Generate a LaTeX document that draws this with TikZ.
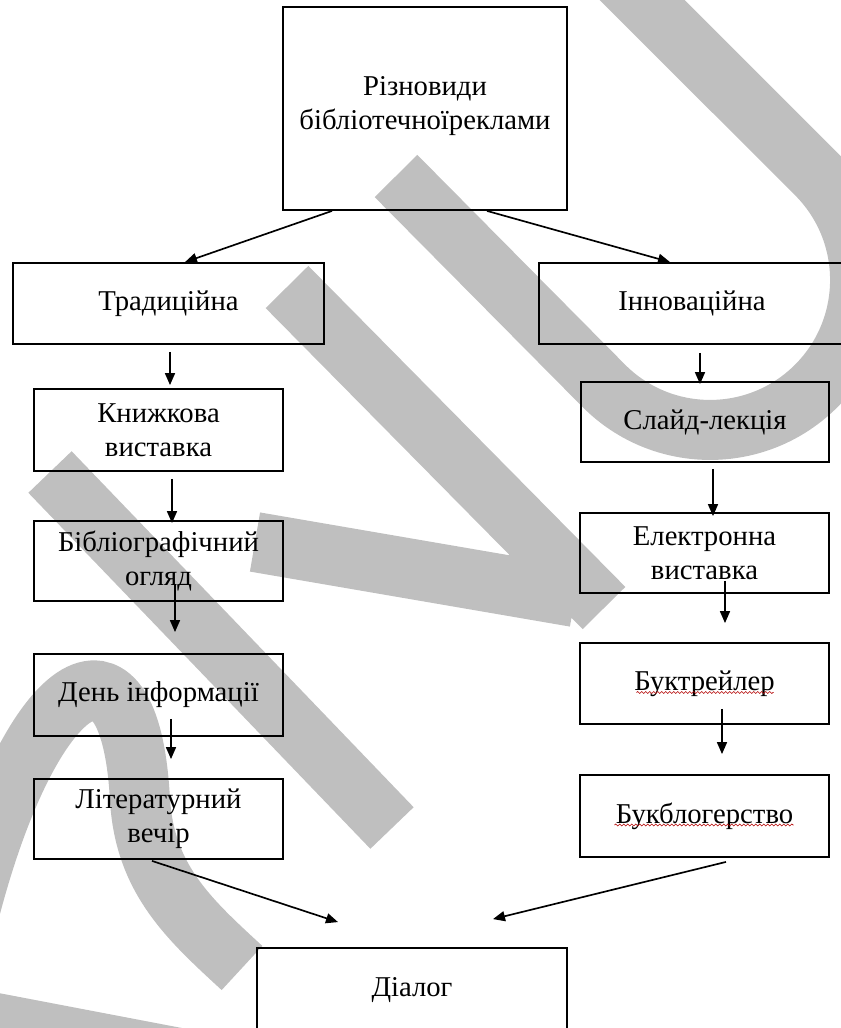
\documentclass[tikz,border=0pt]{standalone}
\usepackage{fontspec}
\setmainfont{Liberation Serif}
\usetikzlibrary{arrows.meta,calc,decorations.pathmorphing}

\tikzstyle{blok}=[draw=black,line width=0.055cm,inner sep=0pt,align=center,font=\fontsize{24.5}{29}\selectfont]
\tikzstyle{strilka}=[line width=0.05cm,-{Triangle[length=0.36cm,width=0.3cm]}]
\tikzstyle{znak}=[draw=black,opacity=0.25,line width=1.8cm]
\tikzstyle{pidkr}=[draw=red!70!black,line width=0.02cm,decorate,decoration={snake,amplitude=0.03cm,segment length=0.12cm}]

\begin{document}
\begin{tikzpicture}[x=0.03cm,y=-0.03cm]

   \useasboundingbox (0,0) rectangle (841,1028);
   \clip (0,0) rectangle (841,1028);

   % top
   \node[blok,minimum width=8.52cm,minimum height=6.09cm] (vydy) at (425,108.5) {Різновиди\\бібліотечноїреклами\\[-0.66cm]};

   % left column
   \node[blok,minimum width=9.33cm,minimum height=2.43cm] (trad) at (168.5,303.5) {Традиційна};
   \node[blok,minimum width=7.47cm,minimum height=2.46cm] (knyzh) at (158.5,430) {Книжкова\\виставка};
   \node[blok,minimum width=7.47cm,minimum height=2.4cm] (bibl) at (158.5,561) {Бібліографічний\\огляд};
   \node[blok,minimum width=7.47cm,minimum height=2.46cm] (den) at (158.5,695) {День інформації};
   \node[blok,minimum width=7.47cm,minimum height=2.4cm] (lit) at (158.5,819) {Літературний\\вечір};

   % right column
   \node[blok,minimum width=9.18cm,minimum height=2.43cm] (inn) at (692,303.5) {Інноваційна};
   \node[blok,minimum width=7.44cm,minimum height=2.4cm] (slaid) at (705,422) {Слайд-лекція};
   \node[blok,minimum width=7.47cm,minimum height=2.4cm] (elek) at (704.5,553) {Електронна\\виставка};
   \node[blok,minimum width=7.47cm,minimum height=2.43cm] (buktr) at (704.5,683.5) {Буктрейлер};
   \node[blok,minimum width=7.47cm,minimum height=2.46cm] (bukbl) at (704.5,816) {Букблогерство};

   % bottom
   \node[blok,minimum width=9.3cm,minimum height=2.52cm] (dial) at (412,990) {Діалог};

   \draw[pidkr] ($(buktr.center)+(-68,9)$) -- ($(buktr.center)+(69,9)$);
   \draw[pidkr] ($(bukbl.center)+(-90,9)$) -- ($(bukbl.center)+(89,9)$);

   \draw[strilka] ($(vydy.south)+(-93,0)$) -- ($(trad.north)+(16.5,0)$);
   \draw[strilka] ($(vydy.south)+(62,0)$) -- ($(inn.north)+(-22,0)$);

   \draw[strilka] ($(trad.south)+(1.5,7)$) -- ($(knyzh.north)+(11.5,-3)$);
   \draw[strilka] ($(knyzh.south)+(13.5,7)$) -- ($(bibl.north)+(13.5,3)$);
   \draw[strilka] ($(bibl.south)+(16.5,-18)$) -- ($(den.north)+(16.5,-21)$);
   \draw[strilka] ($(den.south)+(12.5,-18)$) -- ($(lit.north)+(12.5,-19)$);

   \draw[strilka] ($(inn.south)+(8,8)$) -- ($(slaid.north)+(-5,3)$);
   \draw[strilka] ($(slaid.south)+(8,6)$) -- ($(elek.north)+(8.5,4)$);
   \draw[strilka] ($(elek.south)+(20.5,-13)$) -- ($(buktr.north)+(20.5,-19)$);
   \draw[strilka] ($(buktr.south)+(17.5,-16)$) -- ($(bukbl.north)+(17.5,-20)$);

   \draw[strilka] ($(lit.south)+(-6.5,1)$) -- ($(dial.north)+(-74,-25)$);
   \draw[strilka] ($(bukbl.south)+(21.5,4)$) -- ($(dial.north)+(81,-28)$);

   % watermark
   \draw[znak] (396,176) -- (604,386) arc[start angle=135,end angle=-45,radius=150] -- (570,-72)
      (287,287) -- (604,608) (255,542) -- (575,597)
      (50,472) -- (392,828)
      (-30,910) .. controls (30,680) and (130,610) .. (140,800) .. controls (145,880) and (190,920) .. (242,968)
      (-20,1020) -- (200,1062);

\end{tikzpicture}
\end{document}
